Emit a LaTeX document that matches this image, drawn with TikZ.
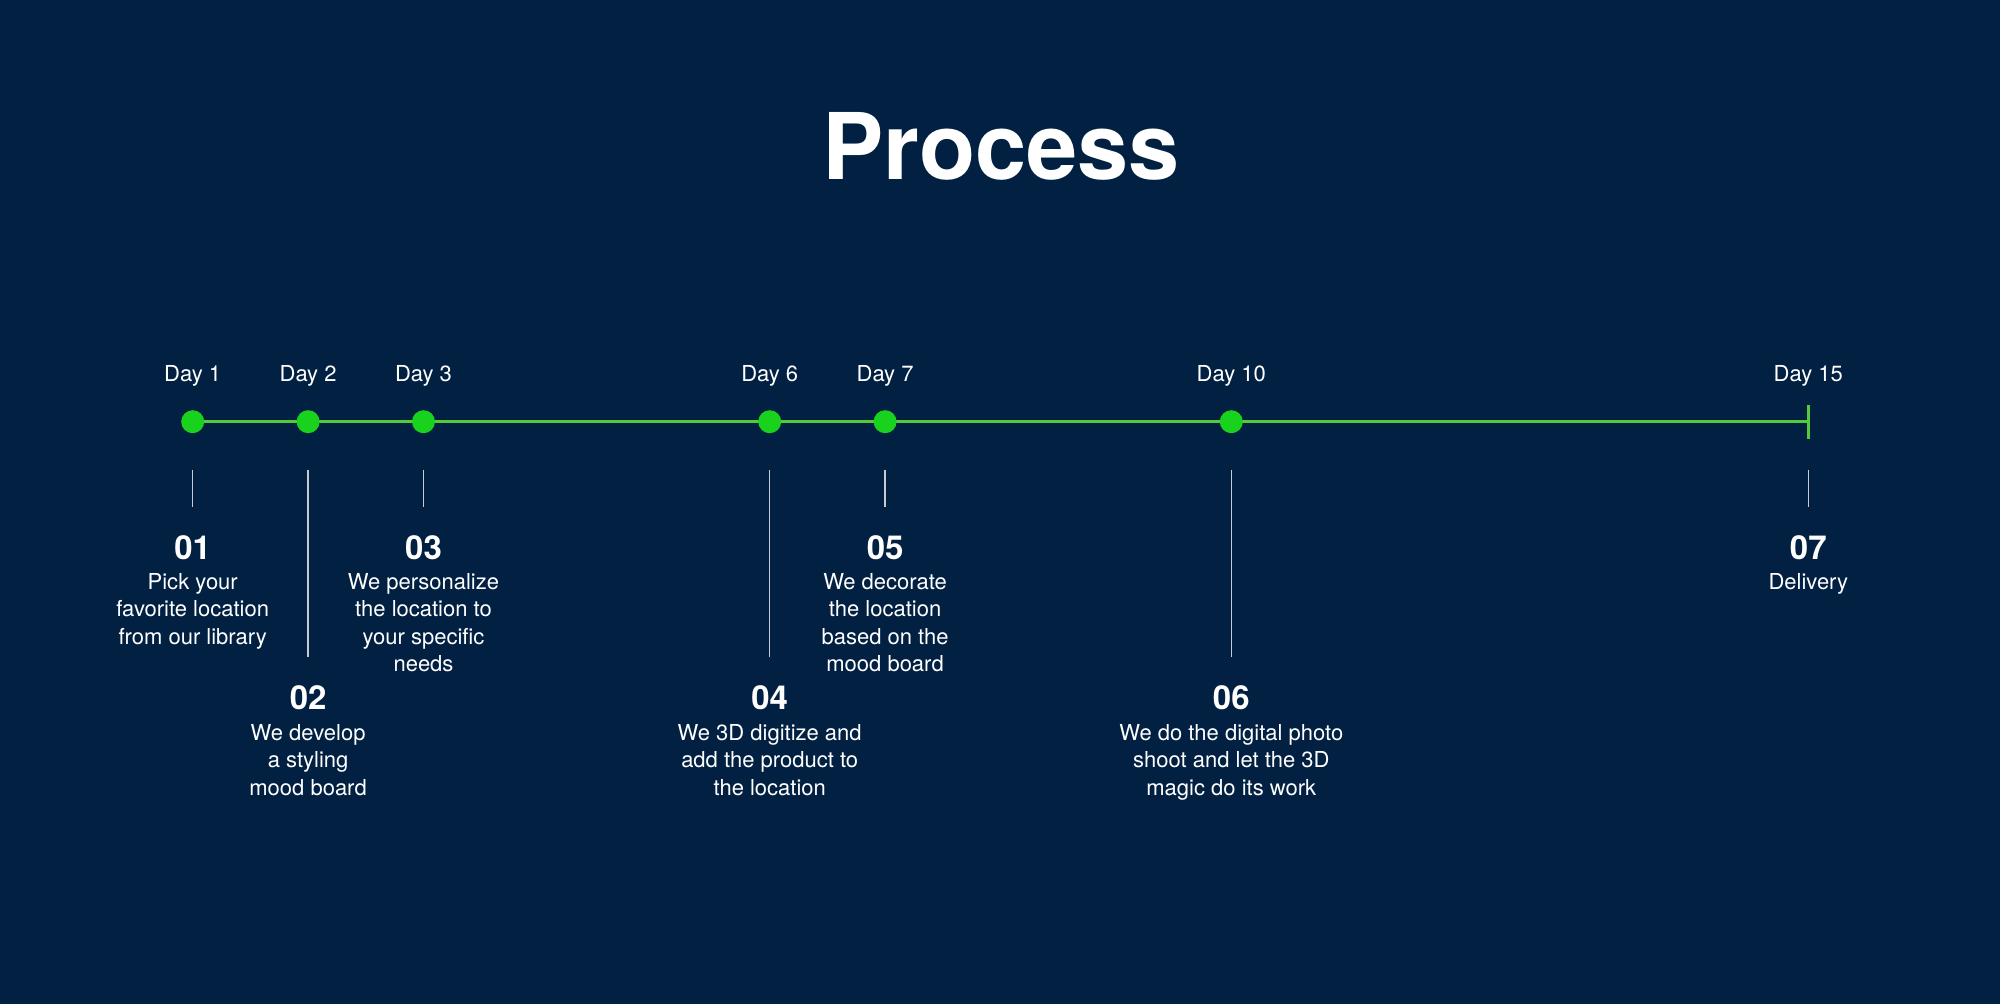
\documentclass[tikz,border=0pt]{standalone}
\usepackage{fontspec}
\setmainfont{TeX Gyre Heros}
\usetikzlibrary{calc,backgrounds}
\definecolor{bg}{HTML}{022142}
\definecolor{dotgreen}{HTML}{18D21E}
\definecolor{linegreen}{HTML}{52CC3C}
\definecolor{stemgray}{HTML}{C5CBD5}
\begin{document}
\begin{tikzpicture}[x=1pt,y=-1pt,
  dot/.style={circle,fill=dotgreen,minimum size=23pt,inner sep=0pt},
  daylbl/.style={anchor=base,text=white,inner sep=0pt,font=\fontsize{22}{26}\selectfont},
  num/.style={anchor=base,text=white,inner sep=0pt,font=\fontsize{33}{38}\selectfont\bfseries},
  desc/.style={anchor=north,text=white,align=center,inner sep=0pt,font=\fontsize{22}{27.5}\selectfont},
  stem/.style={draw=stemgray,line width=1.5pt},
  timeline/.style={draw=linegreen,line width=3pt}]
\useasboundingbox (0,0) rectangle (2000,1004);

% title
\node[anchor=base,text=white,inner sep=0pt,font=\fontsize{92}{100}\selectfont\bfseries] (title) at (1001,179) {Process};

% dots
\node[dot] (d1) at (192.7,421.7) {};
\node[dot] (d2) at (308.1,421.7) {};
\node[dot] (d3) at (423.5,421.7) {};
\node[dot] (d6) at (769.7,421.7) {};
\node[dot] (d7) at (885.1,421.7) {};
\node[dot] (d10) at (1231.3,421.7) {};
\coordinate (tlend) at (1808.3,421.7);

% day labels
\node[daylbl] (l1) at (192.7,381) {Day 1};
\node[daylbl] (l2) at (308.1,381) {Day 2};
\node[daylbl] (l3) at (423.5,381) {Day 3};
\node[daylbl] (l6) at (769.7,381) {Day 6};
\node[daylbl] (l7) at (885.1,381) {Day 7};
\node[daylbl] (l10) at (1231.3,381) {Day 10};
\node[daylbl] (l15) at (1808.3,381) {Day 15};

% timeline
\begin{pgfonlayer}{background}
  \fill[bg] (0,0) rectangle (2000,1004);
  \draw[timeline] (d1.center) -- (tlend);
\end{pgfonlayer}
\draw[timeline] ($(tlend)+(0,-17)$) -- ($(tlend)+(0,17)$);

% stems
\draw[stem] ($(d1)+(0,48)$) -- ++(0,37);
\draw[stem] ($(d2)+(0,48)$) -- ++(0,187);
\draw[stem] ($(d3)+(0,48)$) -- ++(0,37);
\draw[stem] ($(d6)+(0,48)$) -- ++(0,187);
\draw[stem] ($(d7)+(0,48)$) -- ++(0,37);
\draw[stem] ($(d10)+(0,48)$) -- ++(0,187);
\draw[stem] ($(tlend)+(0,48)$) -- ++(0,37);

% numbers and descriptions (upper row)
\node[num] (n1) at (192.7,559) {01};
\node[desc] (t1) at (192.7,573) {Pick your\\favorite location\\from our library};
\node[num] (n3) at (423.5,559) {03};
\node[desc] (t3) at (423.5,573) {We personalize\\the location to\\your specific\\needs};
\node[num] (n5) at (885.1,559) {05};
\node[desc] (t5) at (885.1,573) {We decorate\\the location\\based on the\\mood board};
\node[num] (n7) at (1808.3,559) {07};
\node[desc] (t7) at (1808.3,573) {Delivery};

% lower row
\node[num] (n2) at (308.1,709) {02};
\node[desc] (t2) at (308.1,724) {We develop\\a styling\\mood board};
\node[num] (n4) at (769.7,709) {04};
\node[desc] (t4) at (769.7,724) {We 3D digitize and\\add the product to\\the location};
\node[num] (n6) at (1231.3,709) {06};
\node[desc] (t6) at (1231.3,724) {We do the digital photo\\shoot and let the 3D\\magic do its work};
\end{tikzpicture}
\end{document}
